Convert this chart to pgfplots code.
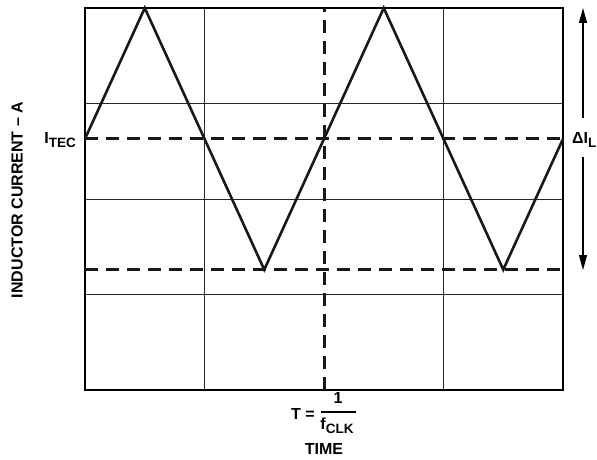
\documentclass[border=0pt]{standalone}
\usepackage{fontspec}
\setmainfont{Liberation Sans}
\usepackage{pgfplots}
\pgfplotsset{compat=1.18}
\usetikzlibrary{arrows.meta}

% label fonts
\newcommand\lab{\fontsize{16}{19}\selectfont\bfseries}
\newcommand\sub[1]{\raisebox{-4pt}{\fontsize{13.5}{15}\selectfont\bfseries #1}}

\begin{document}
\begin{tikzpicture}[x=1pt,y=1pt]
\useasboundingbox (0,0) rectangle (597,459);
\begin{axis}[
  at={(85pt,69pt)}, anchor=south west,
  scale only axis, width=478pt, height=382pt,
  xmin=0, xmax=4, ymin=0, ymax=4,
  xtick={1,3}, ytick={1,2,3},
  xticklabels={}, yticklabels={},
  major tick length=0pt,
  grid=major,
  major grid style={line width=1pt, black!85},
  axis line style={line width=2pt},
  clip=false,
]
% mean current level and valley level
\addplot[black!90, line width=3pt, dash pattern=on 13pt off 8pt]
  coordinates {(0,2.63) (4,2.63)};
\addplot[black!90, line width=3pt, dash pattern=on 13pt off 8pt]
  coordinates {(0,1.26) (4,1.26)};
% one clock period marker
\addplot[black!90, line width=3pt, dash pattern=on 13pt off 8pt]
  coordinates {(2,0) (2,4)};
% inductor current ripple
\addplot[black!90, line width=2.6pt, line join=miter]
  coordinates {(0,2.63) (0.5,4) (1.5,1.26) (2.5,4) (3.5,1.26) (4,2.63)};
\end{axis}

% left labels
\node[rotate=90, font=\lab] at (17,259) {INDUCTOR CURRENT – A};
\node[anchor=base east, font=\lab, inner sep=0pt] at (76,316) {I\sub{TEC}};

% ripple amplitude
\draw[line width=1.2pt, -{Triangle[length=15pt,width=8pt]}] (583,341) -- (583,451);
\draw[line width=1.2pt, -{Triangle[length=15pt,width=8pt]}] (583,302) -- (583,189);
\node[anchor=base west, font=\lab, inner sep=0pt] at (572,316) {ΔI\sub{L}};

% time axis label
\node[anchor=base east, font=\lab, inner sep=0pt] at (315,40) {T =};
\node[anchor=base, font=\lab, inner sep=0pt] at (338,56) {1};
\draw[line width=1.3pt] (321,47) -- (356,47);
\node[anchor=base, font=\lab, inner sep=0pt] at (337,30) {f\sub{CLK}};
\node[anchor=base, font=\lab, inner sep=0pt] at (324,5) {TIME};
\end{tikzpicture}
\end{document}
